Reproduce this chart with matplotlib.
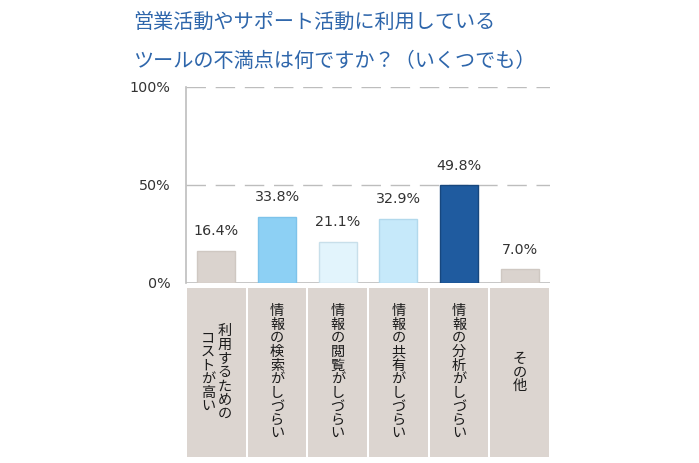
import matplotlib
matplotlib.use("Agg")
import matplotlib.pyplot as plt
from matplotlib.transforms import offset_copy

plt.rcParams['font.family'] = ['Noto Sans CJK JP', 'DejaVu Sans']

title_lines = ["営業活動やサポート活動に利用している", "ツールの不満点は何ですか？（いくつでも）"]
categories = [["利用するための", "コストが高い"], ["情報の検索がしづらい"], ["情報の閲覧がしづらい"],
              ["情報の共有がしづらい"], ["情報の分析がしづらい"], ["その他"]]
values = [16.4, 33.8, 21.1, 32.9, 49.8, 7.0]
bar_colors = ["#DAD3CE", "#8DD0F4", "#E2F4FC", "#C6E9FA", "#1F5B9F", "#DAD3CE"]
edge_colors = ["#CFC8C2", "#7EC3EA", "#C8DFEA", "#B2D9EC", "#17477E", "#CFC8C2"]
yticks = [0, 50, 100]
ytick_labels = ["0%", "50%", "100%"]

W, H = 699, 463
fig = plt.figure(figsize=(W / 100, H / 100), dpi=100)

def fy(py):
    return 1 - py / H

L, R = 186, 550
ax = fig.add_axes([L / W, fy(283), (R - L) / W, fy(87) - fy(283)])
x = list(range(len(values)))
ax.set_xlim(-0.5, len(values) - 0.5)
ax.set_ylim(0, 100)

for yv in [50, 100]:
    ax.axhline(yv, color="#BDBDBD", lw=1.0, dashes=(14, 7), zorder=1)
ax.axhline(0, color="#BDBDBD", lw=1.2, zorder=1)

ax.bar(x, values, width=0.63, color=bar_colors, edgecolor=edge_colors, linewidth=1.0, zorder=2)
for xi, v in zip(x, values):
    ax.text(xi, v + 6.5, f"{v:.1f}%", ha="center", va="bottom", fontsize=10.3,
            family="DejaVu Sans", color="#333333")

for s in ["top", "right", "bottom"]:
    ax.spines[s].set_visible(False)
ax.spines["left"].set_color("#BDBDBD")
ax.spines["left"].set_linewidth(1.2)
ax.set_xticks([])
ax.set_yticks(yticks)
ax.set_yticklabels(ytick_labels, family="DejaVu Sans", fontsize=10.3, color="#333333")
ax.tick_params(axis="y", length=0, pad=11)

# category label boxes
ax2 = fig.add_axes([L / W, fy(457), (R - L) / W, fy(288) - fy(457)])
ax2.set_xlim(-0.5, len(values) - 0.5)
ax2.set_ylim(0, 1)
ax2.bar(x, [1] * len(x), width=0.965, color="#DCD5D0", edgecolor="none")
ax2.axis("off")

pitch = 13.7  # pixels per character
for xi, cols in zip(x, categories):
    ncol = len(cols)
    for ci, col in enumerate(cols):
        # columns read right to left
        xoff = (ncol - 1) / 2 * 17 - ci * 17
        n = len(col)
        for k, ch in enumerate(col):
            yoff = ((n - 1) / 2 - k) * pitch
            tr = offset_copy(ax2.transData, fig=fig, x=xoff, y=yoff, units="dots")
            ax2.text(xi, 0.5, ch, transform=tr, ha="center", va="center",
                     fontsize=10.2, color="#1A1A1A")

for i, line in enumerate(title_lines):
    fig.text(133 / W, fy(22 + 39.5 * i), line, ha="left", va="center",
             fontsize=14.5, color="#2E66AB")

fig.savefig("out.png", dpi=100)
